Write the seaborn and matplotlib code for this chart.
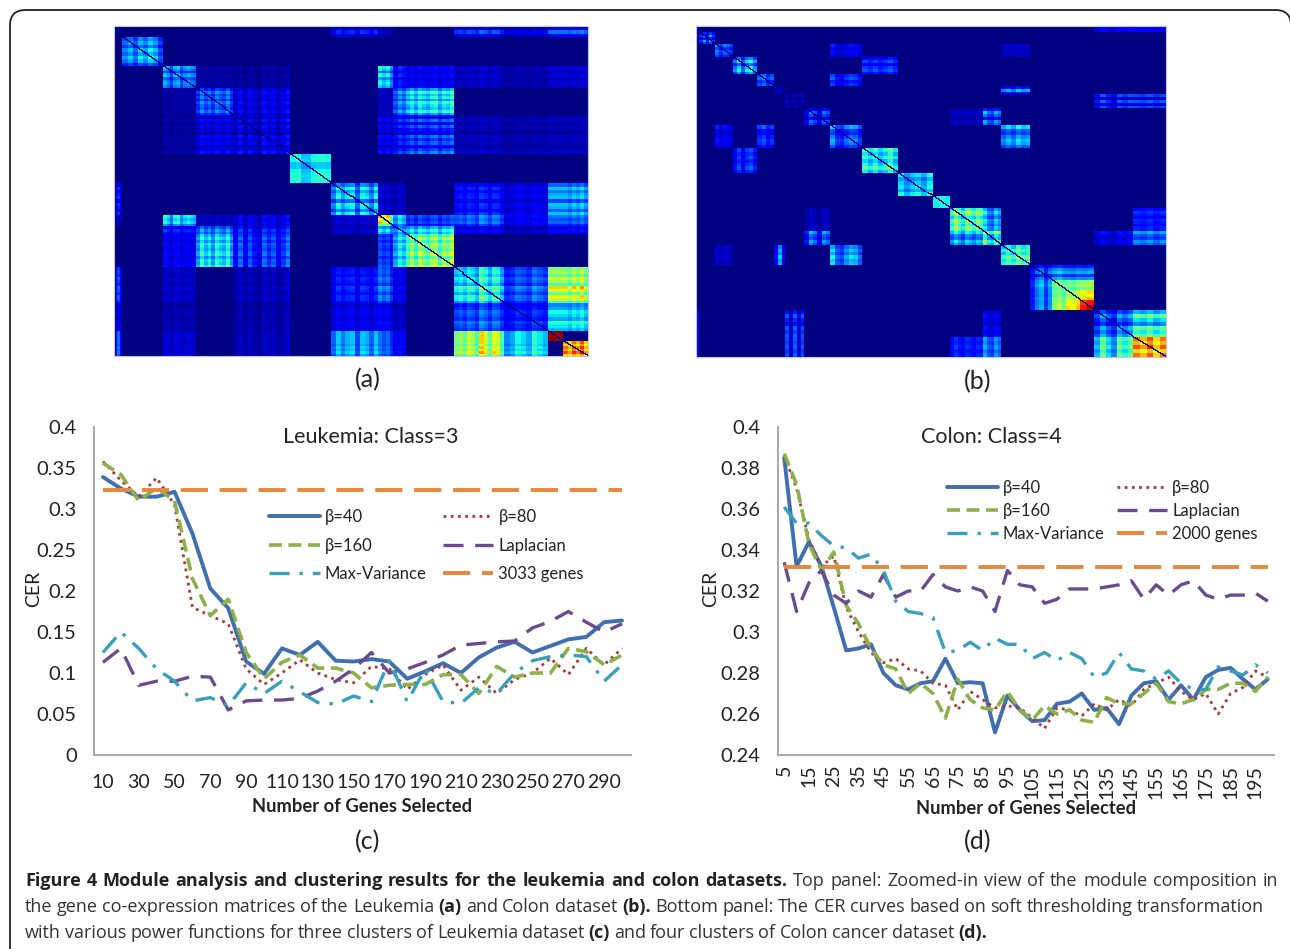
import matplotlib
matplotlib.use("Agg")
import matplotlib.pyplot as plt
import numpy as np
import pandas as pd
import seaborn as sns
from matplotlib.patches import FancyBboxPatch

# Panel (a): cells per module along each axis, level inside each module, levels between modules.
# Levels and stripe weights are estimated by eye, the real cell values can't be read.
leukemia_cols = [8, 41, 33, 37, 57, 41, 46, 15, 13, 48, 50, 44, 15, 25]
leukemia_rows = [11, 29, 22, 26, 39, 29, 32, 11, 8, 33, 35, 28, 10, 15]
leukemia_self = [0.02, 0.24, 0.24, 0.2, 0.09, 0.37, 0.28, 0.52, 0.3, 0.48, 0.36, 0.15, 0.98, 0.76]
leukemia_links = [
    (0, 6, 0.12), (0, 7, 0.05), (0, 10, 0.16), (0, 11, 0.09), (0, 12, 0.2), (0, 13, 0.2),
    (2, 3, 0.03), (2, 4, 0.03), (2, 7, 0.3), (2, 8, 0.14), (2, 9, 0.1),
    (2, 10, 0.06), (2, 11, 0.04), (2, 12, 0.07), (2, 13, 0.07),
    (3, 4, 0.09), (3, 7, 0.05), (3, 8, 0.24), (3, 9, 0.33),
    (4, 7, 0.09), (4, 8, 0.14), (4, 9, 0.17), (4, 10, 0.05), (4, 11, 0.04), (4, 12, 0.05), (4, 13, 0.05),
    (6, 7, 0.06), (6, 8, 0.06), (6, 10, 0.13), (6, 11, 0.09), (6, 12, 0.27), (6, 13, 0.27),
    (7, 8, 0.3), (7, 9, 0.16), (7, 10, 0.2), (7, 11, 0.1), (7, 12, 0.2), (7, 13, 0.2),
    (8, 9, 0.34), (8, 10, 0.1), (8, 11, 0.06), (8, 12, 0.12), (8, 13, 0.12),
    (10, 11, 0.2), (10, 12, 0.55), (10, 13, 0.55), (11, 12, 0.34), (11, 13, 0.34),
]
leukemia_stripes = [
    [0.4, 1.2, 0.6],
    [0.9, 1.1, 0.8, 1.2, 1.0, 1.3, 1.1, 0.7],
    [1.2, 1.0, 0.7, 1.1, 1.2, 0.8, 1.0, 1.1, 1.0, 0.9],
    [0.8, 1.2, 0.9, 1.1, 0.8, 1.2, 1.0, 0.9, 1.2, 0.8],
    [0.7, 1.3, 0.6, 1.2, 0.8, 0.5, 1.3, 0.9, 1.2, 0.6, 1.0, 1.4],
    [1.0, 1.05, 0.85, 0.85, 1.0, 1.05, 1.05, 1.0],
    [0.8, 1.2, 0.9, 1.1, 1.2, 0.7, 1.2, 1.1, 0.8, 1.2],
    [1.2, 1.0, 1.15, 0.8],
    [0.8, 1.1, 0.9],
    [0.9, 1.1, 0.85, 1.15, 1.0, 0.9, 1.1, 1.15, 0.85, 1.1, 1.0, 1.2],
    [0.9, 1.0, 0.85, 1.1, 1.0, 0.8, 1.25, 1.1, 0.85, 1.15, 1.1, 0.8],
    [0.75, 0.85, 1.1, 1.0, 0.85, 1.2, 1.05, 0.9],
    [1.0, 1.0, 1.0],
    [1.0, 0.9, 1.05, 0.95, 1.1, 0.9],
]

# Panel (b), same layout
colon_cols = [3, 16, 18, 24, 17, 11, 19, 26, 32, 36, 34, 17, 33, 18, 29, 22, 14, 14, 14, 39, 33]
colon_rows = [6, 12, 13, 17, 12, 8, 14, 17, 23, 25, 24, 12, 23, 14, 20, 15, 10, 10, 10, 27, 20]
colon_self = [0.1, 0.2, 0.2, 0.26, 0.2, 0.06, 0.05, 0.16, 0.2, 0.36, 0.3, 0.36,
              0.44, 0.36, 0.38, 0.2, 0.46, 0.56, 0.85, 0.26, 0.72]
colon_links = [
    (0, 19, 0.12), (0, 20, 0.12), (2, 8, 0.1), (2, 14, 0.06), (3, 9, 0.15),
    (4, 8, 0.15), (5, 14, 0.2), (6, 19, 0.16), (6, 20, 0.16), (7, 12, 0.05),
    (7, 13, 0.2), (8, 14, 0.25), (12, 13, 0.26), (12, 20, 0.14), (13, 19, 0.1),
    (13, 20, 0.22), (15, 16, 0.26), (15, 17, 0.24), (15, 18, 0.24),
    (16, 17, 0.47), (16, 18, 0.5), (17, 18, 0.64), (19, 20, 0.42),
]
colon_stripes = [
    [1.0, 1.0],
    [0.7, 1.2, 0.6, 1.3, 0.8],
    [1.2, 0.8, 1.1, 1.0, 0.8],
    [0.8, 1.2, 0.7, 1.1, 1.3, 0.9],
    [1.0, 1.2, 0.8, 1.0],
    [0.6, 1.4, 0.6],
    [1.2, 0.4, 1.3, 0.5, 1.2],
    [0.6, 1.3, 1.0, 0.5, 1.2, 1.0],
    [1.3, 0.8, 0.7, 1.0, 1.2, 1.1, 0.8],
    [1.1, 0.9, 1.1, 0.85, 1.0, 1.2, 0.9],
    [1.1, 0.85, 1.0, 1.1, 0.9, 1.2],
    [1.0, 1.05, 1.0],
    [0.9, 1.2, 1.0, 0.8, 1.15, 1.05, 0.9, 1.1, 1.0],
    [1.3, 0.9, 0.8, 1.2, 1.0],
    [0.9, 1.1, 0.9, 1.2, 1.0, 1.1],
    [0.6, 1.0, 1.2, 0.7, 1.1],
    [1.0, 1.1, 0.95],
    [1.0, 0.95, 1.05],
    [1.0, 1.05],
    [0.7, 1.1, 0.8, 0.6, 1.1, 0.9, 1.1],
    [1.05, 0.95, 1.1, 0.9, 1.05],
]

# CER curves, panel (c)
leukemia_genes = list(range(10, 301, 10))
leukemia_beta40 = [0.339, 0.325, 0.315, 0.315, 0.321, 0.27, 0.203, 0.179, 0.114, 0.099,
                   0.13, 0.122, 0.138, 0.115, 0.114, 0.117, 0.114, 0.093, 0.102, 0.112,
                   0.1, 0.119, 0.131, 0.138, 0.125, 0.133, 0.141, 0.144, 0.162, 0.164]
leukemia_beta80 = [0.358, 0.335, 0.315, 0.338, 0.305, 0.18, 0.17, 0.16, 0.105, 0.086,
                   0.1, 0.116, 0.1, 0.092, 0.088, 0.108, 0.105, 0.08, 0.098, 0.11,
                   0.079, 0.095, 0.075, 0.092, 0.1, 0.118, 0.098, 0.13, 0.11, 0.13]
leukemia_beta160 = [0.356, 0.342, 0.31, 0.326, 0.31, 0.215, 0.17, 0.19, 0.125, 0.093,
                    0.113, 0.122, 0.106, 0.106, 0.1, 0.082, 0.085, 0.086, 0.086, 0.098,
                    0.098, 0.075, 0.108, 0.095, 0.1, 0.1, 0.13, 0.126, 0.11, 0.122]
leukemia_laplacian = [0.113, 0.13, 0.085, 0.09, 0.09, 0.096, 0.095, 0.055, 0.066, 0.067,
                      0.067, 0.069, 0.078, 0.09, 0.105, 0.125, 0.1, 0.105, 0.113, 0.122,
                      0.134, 0.136, 0.138, 0.139, 0.155, 0.163, 0.175, 0.162, 0.15, 0.16]
leukemia_maxvar = [0.125, 0.15, 0.13, 0.105, 0.09, 0.066, 0.07, 0.06, 0.088, 0.075,
                   0.09, 0.077, 0.064, 0.062, 0.072, 0.065, 0.115, 0.065, 0.105, 0.065,
                   0.063, 0.082, 0.075, 0.1, 0.115, 0.12, 0.122, 0.12, 0.09, 0.11]
leukemia_all = [0.323] * 30

# CER curves, panel (d)
colon_genes = list(range(5, 201, 5))
colon_beta40 = [0.385, 0.332, 0.344, 0.332, 0.312, 0.291, 0.292, 0.294, 0.28, 0.274,
                0.272, 0.275, 0.276, 0.287, 0.275, 0.2755, 0.275, 0.251, 0.269, 0.262,
                0.2565, 0.257, 0.265, 0.266, 0.27, 0.262, 0.263, 0.255, 0.269, 0.275,
                0.276, 0.267, 0.274, 0.267, 0.278, 0.2815, 0.2825, 0.277, 0.272, 0.277]
colon_beta80 = [0.386, 0.37, 0.345, 0.332, 0.337, 0.312, 0.3, 0.29, 0.285, 0.287,
                0.282, 0.281, 0.275, 0.274, 0.262, 0.271, 0.267, 0.263, 0.264, 0.263,
                0.258, 0.253, 0.263, 0.262, 0.259, 0.265, 0.262, 0.267, 0.264, 0.272,
                0.275, 0.278, 0.271, 0.267, 0.27, 0.26, 0.27, 0.273, 0.281, 0.278]
colon_beta160 = [0.387, 0.372, 0.343, 0.33, 0.339, 0.313, 0.304, 0.292, 0.284, 0.282,
                 0.27, 0.275, 0.27, 0.258, 0.277, 0.267, 0.263, 0.262, 0.271, 0.262,
                 0.257, 0.264, 0.26, 0.262, 0.257, 0.256, 0.268, 0.265, 0.265, 0.27,
                 0.275, 0.266, 0.265, 0.267, 0.272, 0.272, 0.275, 0.275, 0.271, 0.278]
colon_laplacian = [0.334, 0.31, 0.324, 0.33, 0.318, 0.314, 0.32, 0.317, 0.328, 0.317,
                   0.32, 0.32, 0.328, 0.322, 0.32, 0.322, 0.32, 0.31, 0.33, 0.323,
                   0.322, 0.314, 0.316, 0.321, 0.321, 0.321, 0.322, 0.323, 0.325, 0.316,
                   0.323, 0.318, 0.323, 0.325, 0.318, 0.316, 0.318, 0.318, 0.319, 0.315]
colon_maxvar = [0.361, 0.353, 0.353, 0.347, 0.342, 0.341, 0.336, 0.338, 0.33, 0.315,
                0.31, 0.309, 0.307, 0.29, 0.291, 0.295, 0.291, 0.297, 0.294, 0.294,
                0.287, 0.29, 0.286, 0.29, 0.287, 0.278, 0.28, 0.29, 0.282, 0.281,
                0.277, 0.281, 0.275, 0.272, 0.272, 0.283, 0.281, 0.279, 0.284, 0.28]
colon_all = [0.3315] * 40

W, H = 1290, 949
CHART_FONT = "Lato"
CAPTION_FONT = "Open Sans"
TEXT = "#222222"
AXIS = "#a6a6a6"

sns.set_style("white")
plt.rcParams["font.family"] = [CHART_FONT, "DejaVu Sans"]

fig = plt.figure(figsize=(W / 100, H / 100), dpi=100, facecolor="white")


def px_axes(left, top, right, bottom):
    return fig.add_axes([left / W, 1 - bottom / H, (right - left) / W, (bottom - top) / H])


def stretch(stripes, sizes):
    # one weight per cell, every module keeps its own stripe list
    out = []
    for w, n in zip(stripes, sizes):
        w = np.array(w)
        out.append(w[(np.arange(n) * len(w)) // n])
    return np.concatenate(out)


def build_matrix(rows, cols, own, links, stripes):
    r = np.concatenate([[0], np.cumsum(rows)])
    c = np.concatenate([[0], np.cumsum(cols)])
    mat = np.zeros((r[-1], c[-1]))
    for i, v in enumerate(own):
        mat[r[i]:r[i + 1], c[i]:c[i + 1]] = v
    for i, j, v in links:
        mat[r[i]:r[i + 1], c[j]:c[j + 1]] = v
        mat[r[j]:r[j + 1], c[i]:c[i + 1]] = v
    mat = mat * np.outer(stretch(stripes, rows), stretch(stripes, cols))
    # the self-correlation diagonal stays dark
    for col in range(c[-1]):
        row = int(np.interp(col, c, r))
        row = min(row, r[-1] - 1)
        mat[row, col:col + 2] = 0
    return mat


def plot_matrix(ax, mat):
    sns.heatmap(mat, ax=ax, cmap="jet", vmin=0, vmax=1, cbar=False,
                xticklabels=False, yticklabels=False)
    for s in ax.spines.values():
        s.set_visible(True)
        s.set_color("#c4c4dc")
        s.set_linewidth(0.8)


def plot_cer(ax, genes, series, all_label, title, title_x, yticks, ylabels, ylim,
             step, legend_box, col_gap, row_gap, cer_x, rotate):
    df = pd.DataFrame(series, index=genes)
    df["genes"] = genes
    styles = [
        ("β=40", "#3F6FAE", 2.8, "-"),
        ("β=80", "#A83A38", 2.0, (0, (1, 1.6))),
        ("β=160", "#8DB04A", 2.6, (0, (3.6, 1.8))),
        ("Laplacian", "#6B4B8F", 2.4, (0, (6, 3.5))),
        ("Max-Variance", "#37A0BC", 2.4, (0, (6, 3, 1, 3))),
        (all_label, "#E8873A", 2.8, (0, (7, 3))),
    ]
    for name, color, lw, ls in styles:
        sns.lineplot(data=df, x="genes", y=name, ax=ax, color=color, linewidth=lw,
                     linestyle=ls, label=name, legend=False)
    ax.set_xlim(genes[0] - step / 2, genes[-1] + step / 2)
    ax.set_ylim(*ylim)
    ax.set_yticks(yticks, ylabels, fontsize=14.5, color=TEXT)
    # category style axis: ticks on the bin edges, labels on every second bin
    edges = [g - step / 2 for g in genes] + [genes[-1] + step / 2]
    ax.set_xticks(edges, [""] * len(edges))
    ax.set_xticks(genes[::2], [str(g) for g in genes[::2]], minor=True, fontsize=14,
                  rotation=90 if rotate else 0, color=TEXT)
    ax.tick_params(axis="x", which="major", length=4.5, width=1.3, color=AXIS, direction="out")
    ax.tick_params(axis="x", which="minor", length=0, pad=7 if rotate else 13.5)
    ax.tick_params(axis="y", length=4.5, width=1.3, color=AXIS, direction="out", pad=8)
    sns.despine(ax=ax)
    for s in ("left", "bottom"):
        ax.spines[s].set_color(AXIS)
        ax.spines[s].set_linewidth(1.4)
    ax.set_xlabel("")
    ax.set_ylabel("CER", fontsize=14, color=TEXT)
    ax.yaxis.set_label_coords(cer_x, 0.505)
    ax.text(title_x, 0.97, title, transform=ax.transAxes, ha="center", va="center",
            fontsize=15.5, color=TEXT)
    h, l = ax.get_legend_handles_labels()
    order = [0, 2, 4, 1, 3, 5]
    ax.legend([h[i] for i in order], [l[i] for i in order], ncol=2, frameon=False,
              loc="upper left", bbox_to_anchor=legend_box, fontsize=12, handlelength=3.05,
              columnspacing=col_gap, handletextpad=0.3, labelspacing=row_gap, labelcolor=TEXT,
              borderpad=0, borderaxespad=0)


ax_a = px_axes(114, 26, 588, 356)
plot_matrix(ax_a, build_matrix(leukemia_rows, leukemia_cols, leukemia_self, leukemia_links, leukemia_stripes))
ax_b = px_axes(696, 26, 1166, 357)
plot_matrix(ax_b, build_matrix(colon_rows, colon_cols, colon_self, colon_links, colon_stripes))

ax_c = px_axes(94, 427, 631, 755)
plot_cer(ax_c, leukemia_genes,
         {"β=40": leukemia_beta40, "β=80": leukemia_beta80, "β=160": leukemia_beta160,
          "Laplacian": leukemia_laplacian, "Max-Variance": leukemia_maxvar,
          "3033 genes": leukemia_all},
         "3033 genes", "Leukemia: Class=3", 0.515,
         np.arange(0, 0.41, 0.05), ["0", "0.05", "0.1", "0.15", "0.2", "0.25", "0.3", "0.35", "0.4"],
         (0, 0.4), 10, (0.326, 0.75), 0.95, 0.75, -0.097, False)

ax_d = px_axes(778, 427, 1274, 755)
plot_cer(ax_d, colon_genes,
         {"β=40": colon_beta40, "β=80": colon_beta80, "β=160": colon_beta160,
          "Laplacian": colon_laplacian, "Max-Variance": colon_maxvar,
          "2000 genes": colon_all},
         "2000 genes", "Colon: Class=4", 0.43,
         np.arange(0.24, 0.401, 0.02), ["0.24", "0.26", "0.28", "0.3", "0.32", "0.34", "0.36", "0.38", "0.4"],
         (0.24, 0.4), 5, (0.341, 0.839), 0.7, 0.42, -0.119, True)

fig.text(362 / W, 1 - 806 / H, "Number of Genes Selected", ha="center", va="center",
         fontsize=13.2, fontweight="bold", color=TEXT)
fig.text(1026 / W, 1 - 808 / H, "Number of Genes Selected", ha="center", va="center",
         fontsize=13.2, fontweight="bold", color=TEXT)

for label, x, y in [("(a)", 368, 380), ("(b)", 978, 382), ("(c)", 368, 842), ("(d)", 978, 842)]:
    fig.text(x / W, 1 - y / H, label, ha="center", va="center", fontsize=18, color=TEXT)

# rounded frame of the journal figure, open at the bottom
fig.add_artist(FancyBboxPatch((10 / W, -0.02), 1281 / W, 1 - 10 / H + 0.02,
                              boxstyle="round,pad=0,rounding_size=0.012",
                              transform=fig.transFigure, fill=False, ec=TEXT, lw=1.3,
                              mutation_aspect=W / H))

caption_lines = [
    (881, 1278, [("Figure 4 Module analysis and clustering results for the leukemia and colon datasets.", True),
                 ("Top panel: Zoomed-in view of the module composition in", False)]),
    (907, 1264, [("the gene co-expression matrices of the Leukemia", False), ("(a)", True),
                 ("and Colon dataset", False), ("(b).", True),
                 ("Bottom panel: The CER curves based on soft thresholding transformation", False)]),
    (933, 987, [("with various power functions for three clusters of Leukemia dataset", False), ("(c)", True),
                ("and four clusters of Colon cancer dataset", False), ("(d).", True)]),
]
renderer = fig.canvas.get_renderer()
for y, x_end, parts in caption_lines:
    # measure word by word so that every line ends where it ends in the reference
    words = []
    for txt, bold in parts:
        for word in txt.split(" "):
            t = fig.text(25 / W, 1 - y / H, word, ha="left", va="center", fontsize=13,
                         family=CAPTION_FONT, fontweight="bold" if bold else "normal",
                         color=TEXT if bold else "#333333")
            words.append((t, t.get_window_extent(renderer).width))
    gap = (x_end - 25 - sum(w for _, w in words)) / (len(words) - 1)
    x = 25
    for t, w in words:
        t.set_x(x / W)
        x += w + gap

fig.savefig("out.png", dpi=100)
